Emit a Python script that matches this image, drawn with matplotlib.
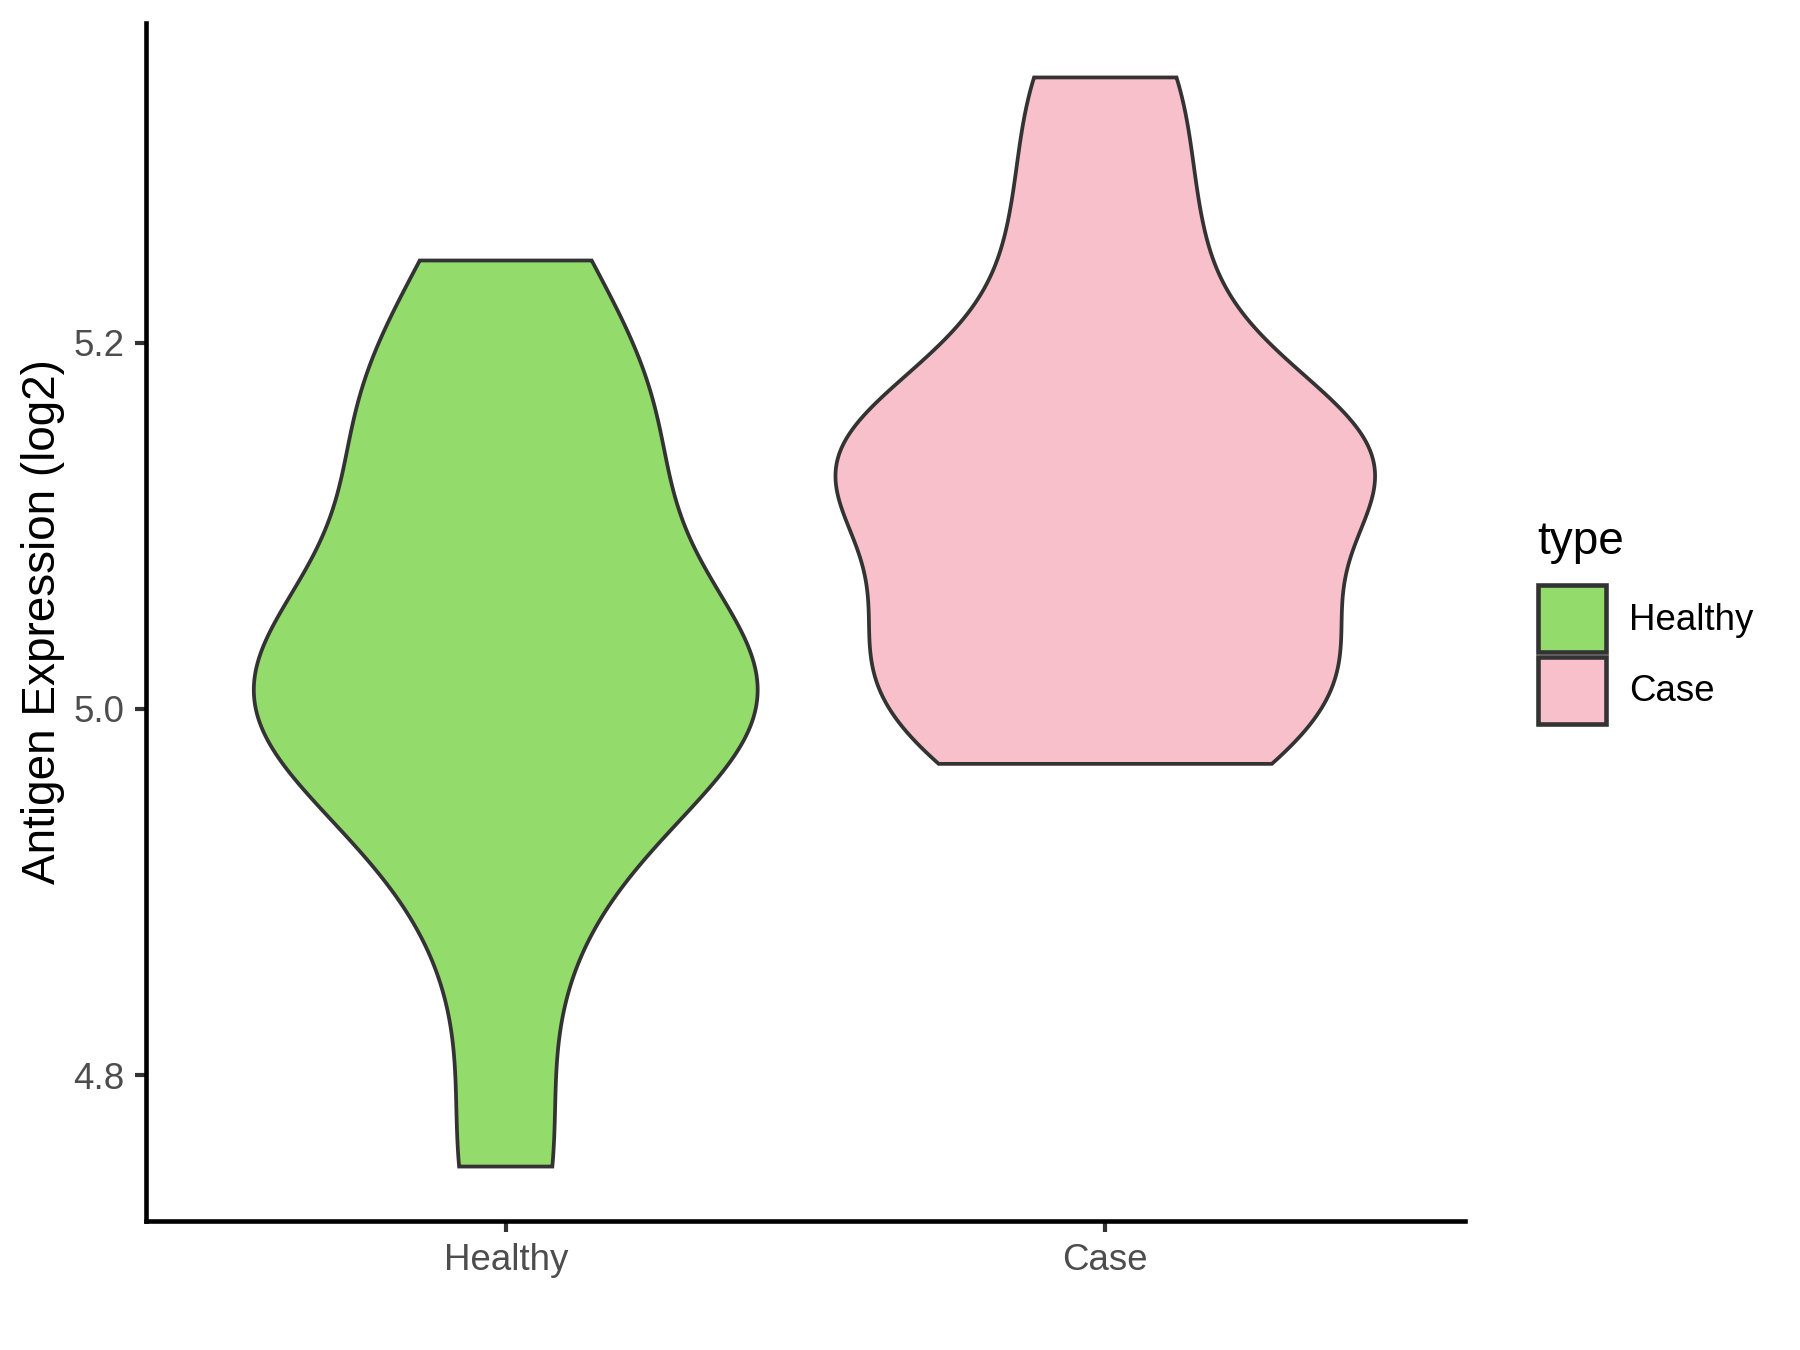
import numpy as np
import matplotlib
matplotlib.use("Agg")
import matplotlib.pyplot as plt
from matplotlib.patches import Polygon, Patch

plt.rcParams['font.family'] = ['Liberation Sans', 'DejaVu Sans']

groups = ["Healthy", "Case"]
colors = ["#93DB6A", "#F8C0CB"]
# expression values per group (log2), estimated from the violin outlines
healthy = [4.750, 4.883, 4.965, 4.982, 5.014, 5.014, 5.016, 5.039, 5.121, 5.163, 5.168, 5.245]
case = [4.970, 4.987, 5.020, 5.042, 5.059, 5.133, 5.134, 5.135, 5.138, 5.203, 5.269, 5.345]
yticks = [4.8, 5.0, 5.2]


def nrd0(x):
    # R's default bandwidth (bw.nrd0)
    sd = np.std(x, ddof=1)
    q75, q25 = np.percentile(x, [75, 25])
    lo = min(sd, (q75 - q25) / 1.34)
    return 0.9 * lo * len(x) ** -0.2


def density(x):
    x = np.asarray(x)
    bw = nrd0(x)
    y = np.linspace(x.min(), x.max(), 512)
    d = np.exp(-0.5 * ((y[:, None] - x[None, :]) / bw) ** 2).sum(1)
    d = d / (len(x) * bw * np.sqrt(2 * np.pi))
    return y, d


fig = plt.figure(figsize=(6, 4.5), dpi=300)
ax = fig.add_axes([146 / 1800, 1 - 1221 / 1350, (1465 - 146) / 1800, (1221 - 23) / 1350])

dens = [density(v) for v in (healthy, case)]
dmax = max(d.max() for _, d in dens)
for i, ((y, d), col) in enumerate(zip(dens, colors)):
    w = d / dmax * 0.45
    xs = np.concatenate([i + 1 - w, (i + 1 + w)[::-1]])
    ys = np.concatenate([y, y[::-1]])
    ax.add_patch(Polygon(np.column_stack([xs, ys]), closed=True, facecolor=col,
                         edgecolor="#333333", lw=0.9))

allv = np.concatenate([healthy, case])
span = allv.max() - allv.min()
ax.set_ylim(allv.min() - 0.05 * span, allv.max() + 0.05 * span)
ax.set_xlim(0.4, 2.6)
ax.set_xticks([1, 2])
ax.set_xticklabels(groups)
ax.set_yticks(yticks)
ax.set_yticklabels([f"{t:.1f}" for t in yticks])
ax.set_ylabel("Antigen Expression (log2)", fontsize=11, labelpad=1.8)
ax.tick_params(labelsize=8.8, labelcolor="#4D4D4D", color="#333333",
               length=2.75, width=1.0, pad=2.5)
for s in ["top", "right"]:
    ax.spines[s].set_visible(False)
for s in ["left", "bottom"]:
    ax.spines[s].set_linewidth(1.1)
    ax.spines[s].set_color("black")

handles = [Patch(facecolor=c, edgecolor="#333333", lw=1.1) for c in colors]
leg = ax.legend(handles, groups, title="type", frameon=False, fontsize=8.8,
                title_fontsize=11, loc="center left", bbox_to_anchor=(1.044, 0.5),
                handlelength=1.85, handleheight=2.44, labelspacing=0.12,
                handletextpad=0.65, borderaxespad=0)
leg._legend_box.align = "left"
leg._legend_box.sep = 5

fig.savefig("out.png", dpi=300)
